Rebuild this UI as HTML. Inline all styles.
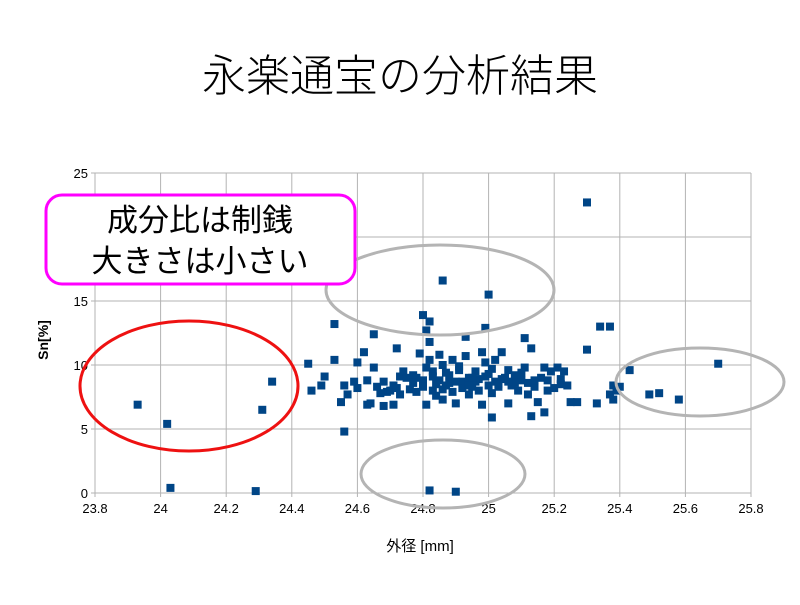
<!DOCTYPE html>
<html><head><meta charset="utf-8"><style>
body{margin:0;background:#fff;}
svg text{font-family:"Liberation Sans","Noto Sans CJK JP",sans-serif;}
</style></head><body>
<svg id="c" width="800" height="600">
<text x="400" y="91" text-anchor="middle" font-size="44" font-weight="300">永楽通宝の分析結果</text>
<g id="grid"></g>
<g id="ticks"></g>
<g id="pts"></g>
<text x="0" y="0" transform="translate(48,340) rotate(-90)" text-anchor="middle" font-size="14" font-weight="bold">Sn[%]</text>
<text x="420" y="551" text-anchor="middle" font-size="15">外径 [mm]</text>
<ellipse cx="189" cy="386" rx="109" ry="65" fill="none" stroke="#ee1111" stroke-width="3"/>
<ellipse cx="440" cy="290" rx="114" ry="45" fill="none" stroke="#b4b4b4" stroke-width="3"/>
<ellipse cx="700" cy="382" rx="84" ry="34" fill="none" stroke="#b4b4b4" stroke-width="3"/>
<ellipse cx="443" cy="474" rx="82" ry="34" fill="none" stroke="#b4b4b4" stroke-width="3"/>
<rect x="46" y="195" width="309" height="89" rx="16" fill="#fff" stroke="#ff00ff" stroke-width="3"/>
<text x="200" y="231" text-anchor="middle" font-size="31">成分比は制銭</text>
<text x="200" y="272" text-anchor="middle" font-size="31">大きさは小さい</text>
</svg>
<script>
const xTicks=["23.8","24","24.2","24.4","24.6","24.8","25","25.2","25.4","25.6","25.8"];
const yTicks=["0","5","10","15","20","25"];
const xVals=[23.93,24.02,24.03,24.29,24.31,24.34,24.45,24.46,24.49,24.50,24.53,24.53,24.55,24.56,24.56,24.57,24.60,24.59,24.60,24.62,24.63,24.63,24.64,24.65,24.65,24.66,24.68,24.68,24.69,24.71,24.71,24.72,24.73,24.73,24.74,24.76,24.77,24.78,24.79,24.80,24.80,24.81,24.81,24.82,24.82,24.82,24.83,24.83,24.84,24.85,24.85,24.86,24.86,24.86,24.87,24.88,24.89,24.89,24.90,24.90,24.91,24.92,24.93,24.93,24.94,24.94,24.95,24.96,24.97,24.97,24.98,24.98,24.99,24.99,25.00,25.00,25.00,25.01,25.01,25.02,25.02,25.03,25.04,25.05,25.06,25.06,25.07,25.08,25.09,25.10,25.11,25.11,25.12,25.13,25.13,25.14,25.15,25.16,25.17,25.17,25.18,25.19,25.20,25.21,25.22,25.23,25.24,25.25,25.27,25.30,25.30,25.33,25.34,25.37,25.37,25.38,25.38,25.39,25.40,25.43,25.49,25.52,25.58,25.70,24.82,24.70,24.78,24.84,24.88,24.92,24.96,25.04,25.08,25.14,24.75,24.80,24.87,24.95,25.03,24.72,24.77,24.83,24.86,24.90,24.94,24.99,25.06,25.12,25.18,25.22,24.67,24.81,24.91,25.01,25.10];
const yVals=[6.9,5.4,0.4,0.15,6.5,8.7,10.1,8.0,8.4,9.1,13.2,10.4,7.1,8.4,4.8,7.7,10.2,8.7,8.2,11.0,6.9,8.8,7.0,12.4,9.8,8.3,6.8,8.7,7.9,8.4,6.9,11.3,9.1,7.7,9.5,8.1,9.2,7.9,10.9,8.8,13.9,6.9,12.7,13.4,11.8,10.4,8.0,9.5,7.6,10.8,8.8,7.3,16.6,10.0,8.4,9.2,10.4,7.9,7.0,0.1,9.6,8.7,12.2,10.7,7.7,9.0,8.3,9.5,8.0,8.9,6.9,11.0,12.9,10.2,8.4,15.5,9.3,5.9,7.8,8.7,10.4,8.3,11.0,9.0,9.6,7.0,8.4,9.2,8.0,8.8,12.1,9.8,7.7,11.3,6.0,8.3,7.1,9.0,6.3,9.8,8.0,9.5,8.2,9.8,8.5,9.5,8.4,7.1,7.1,22.7,11.2,7.0,13.0,13.0,7.7,8.4,7.3,8.0,8.3,9.6,7.7,7.8,7.3,10.1,0.2,8.0,9.0,8.5,8.6,8.2,8.7,8.9,8.6,8.8,9.0,8.3,9.4,9.0,8.5,8.2,8.6,9.1,8.1,8.7,8.4,9.1,8.7,8.6,8.8,8.9,7.8,9.8,9.9,9.7,9.4];
const ns="http://www.w3.org/2000/svg";
const X0=95,X1=751,Y0=493,Y1=173;
function sx(v){return X0+(v-23.8)/2*(X1-X0);}
function sy(v){return Y0-v/25*(Y0-Y1);}
const grid=document.getElementById('grid'),tk=document.getElementById('ticks'),pts=document.getElementById('pts');
function mk(tag,a,p){const e=document.createElementNS(ns,tag);for(const k in a)e.setAttribute(k,a[k]);p.appendChild(e);return e;}
xTicks.forEach(t=>{const x=sx(parseFloat(t));
 const l=mk('line',{x1:x,x2:x,y1:Y1,y2:Y0+4,stroke:'#b3b3b3','stroke-width':1},grid);
 
 
 const s=mk('text',{x:x,y:Y0+20,'text-anchor':'middle','font-size':13},tk);s.textContent=t;
 
 });
yTicks.forEach(t=>{const y=sy(parseFloat(t));
 const l=mk('line',{x1:X0-4,x2:X1,y1:y,y2:y,stroke:'#b3b3b3','stroke-width':1},grid);
 
 
 const s=mk('text',{x:X0-7,y:y+5,'text-anchor':'end','font-size':13},tk);s.textContent=t;
 
 });
xVals.forEach((v,i)=>{const r=mk('rect',{x:sx(v)-4,y:sy(yVals[i])-4,width:8,height:8,fill:'#004586'},pts);
 
 });
</script>
</body></html>
